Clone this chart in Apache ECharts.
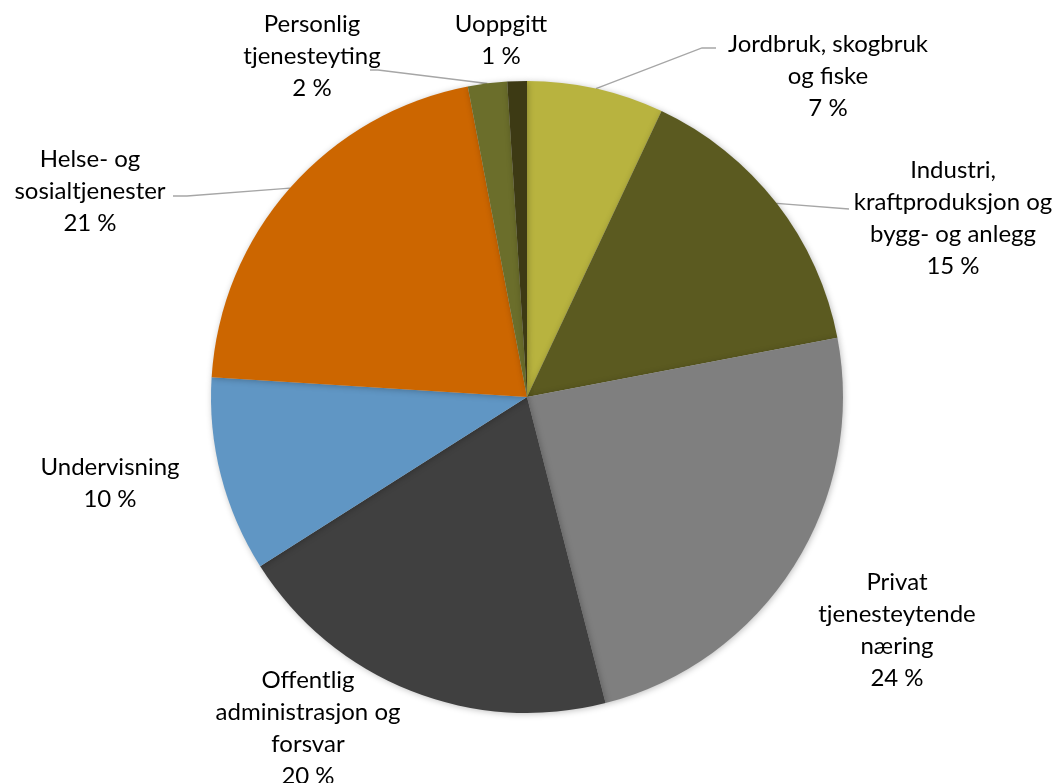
<!DOCTYPE html>
<html>
<head>
<meta charset="utf-8">
<script src="https://cdn.jsdelivr.net/npm/echarts@6/dist/echarts.min.js"></script>
<style>
  html, body { margin: 0; padding: 0; background: #ffffff; }
  #chart { width: 1061px; height: 783px; }
</style>
</head>
<body>
<div id="chart"></div>
<script>
// Sysselsatte etter næring (andel i prosent)
const categories = [
  'Jordbruk, skogbruk\nog fiske',
  'Industri,\nkraftproduksjon og\nbygg- og anlegg',
  'Privat\ntjenesteytende\nnæring',
  'Offentlig\nadministrasjon og\nforsvar',
  'Undervisning',
  'Helse- og\nsosialtjenester',
  'Personlig\ntjenesteyting',
  'Uoppgitt'
];
const shares = [7, 15, 24, 20, 10, 21, 2, 1];
const colors = ['#b8b33f', '#5b5a20', '#7f7f7f', '#404040', '#6096c4', '#cc6600', '#6b6e2b', '#3d3a14'];

// Pie geometry
const CX = 527, CY = 397, R = 316;

// Label placement (block centres) and leader-line bends
const labelPos = [
  [828, 76], [953, 218], [897, 630], [308, 728],
  [110, 483], [90, 191], [312, 56], [501, 40]
];
const leaderBends = [
  [[702, 48], [716, 48]],
  [[849, 209]],
  null,
  null,
  null,
  [[187, 196], [173, 196]],
  [[378, 70], [370, 70]],
  null
];

const total = shares.reduce((a, b) => a + b, 0);
function midPoint(i) {
  let before = 0;
  for (let k = 0; k < i; k++) before += shares[k];
  const frac = (before + shares[i] / 2) / total;
  const a = frac * 2 * Math.PI;
  return [CX + R * Math.sin(a), CY - R * Math.cos(a)];
}

const chart = echarts.init(document.getElementById('chart'), null, { renderer: 'canvas' });
chart.setOption({
  backgroundColor: '#ffffff',
  animation: false,
  series: [{
    type: 'pie',
    center: [CX, CY],
    radius: R,
    startAngle: 90,
    clockwise: true,
    avoidLabelOverlap: false,
    data: categories.map((name, i) => ({
      name: name,
      value: shares[i],
      itemStyle: { color: colors[i] },
      labelLine: { show: !!leaderBends[i] }
    })),
    itemStyle: {
      borderWidth: 0,
      shadowBlur: 6,
      shadowColor: 'rgba(0,0,0,0.25)',
      shadowOffsetX: 1,
      shadowOffsetY: 1
    },
    label: {
      show: true,
      position: 'outside',
      formatter: p => p.name + '\n' + p.value + ' %',
      fontFamily: 'Lato, "Open Sans", sans-serif',
      fontSize: 24,
      lineHeight: 32,
      color: '#000000',
      align: 'center'
    },
    labelLine: {
      show: true,
      lineStyle: { color: '#a6a6a6', width: 1.3 }
    },
    labelLayout: function (params) {
      const i = params.dataIndex;
      const pos = labelPos[i];
      const out = { x: pos[0], y: pos[1], align: 'center', verticalAlign: 'middle' };
      if (leaderBends[i]) {
        out.labelLinePoints = [midPoint(i)].concat(leaderBends[i]);
      }
      return out;
    }
  }]
});
</script>
</body>
</html>
